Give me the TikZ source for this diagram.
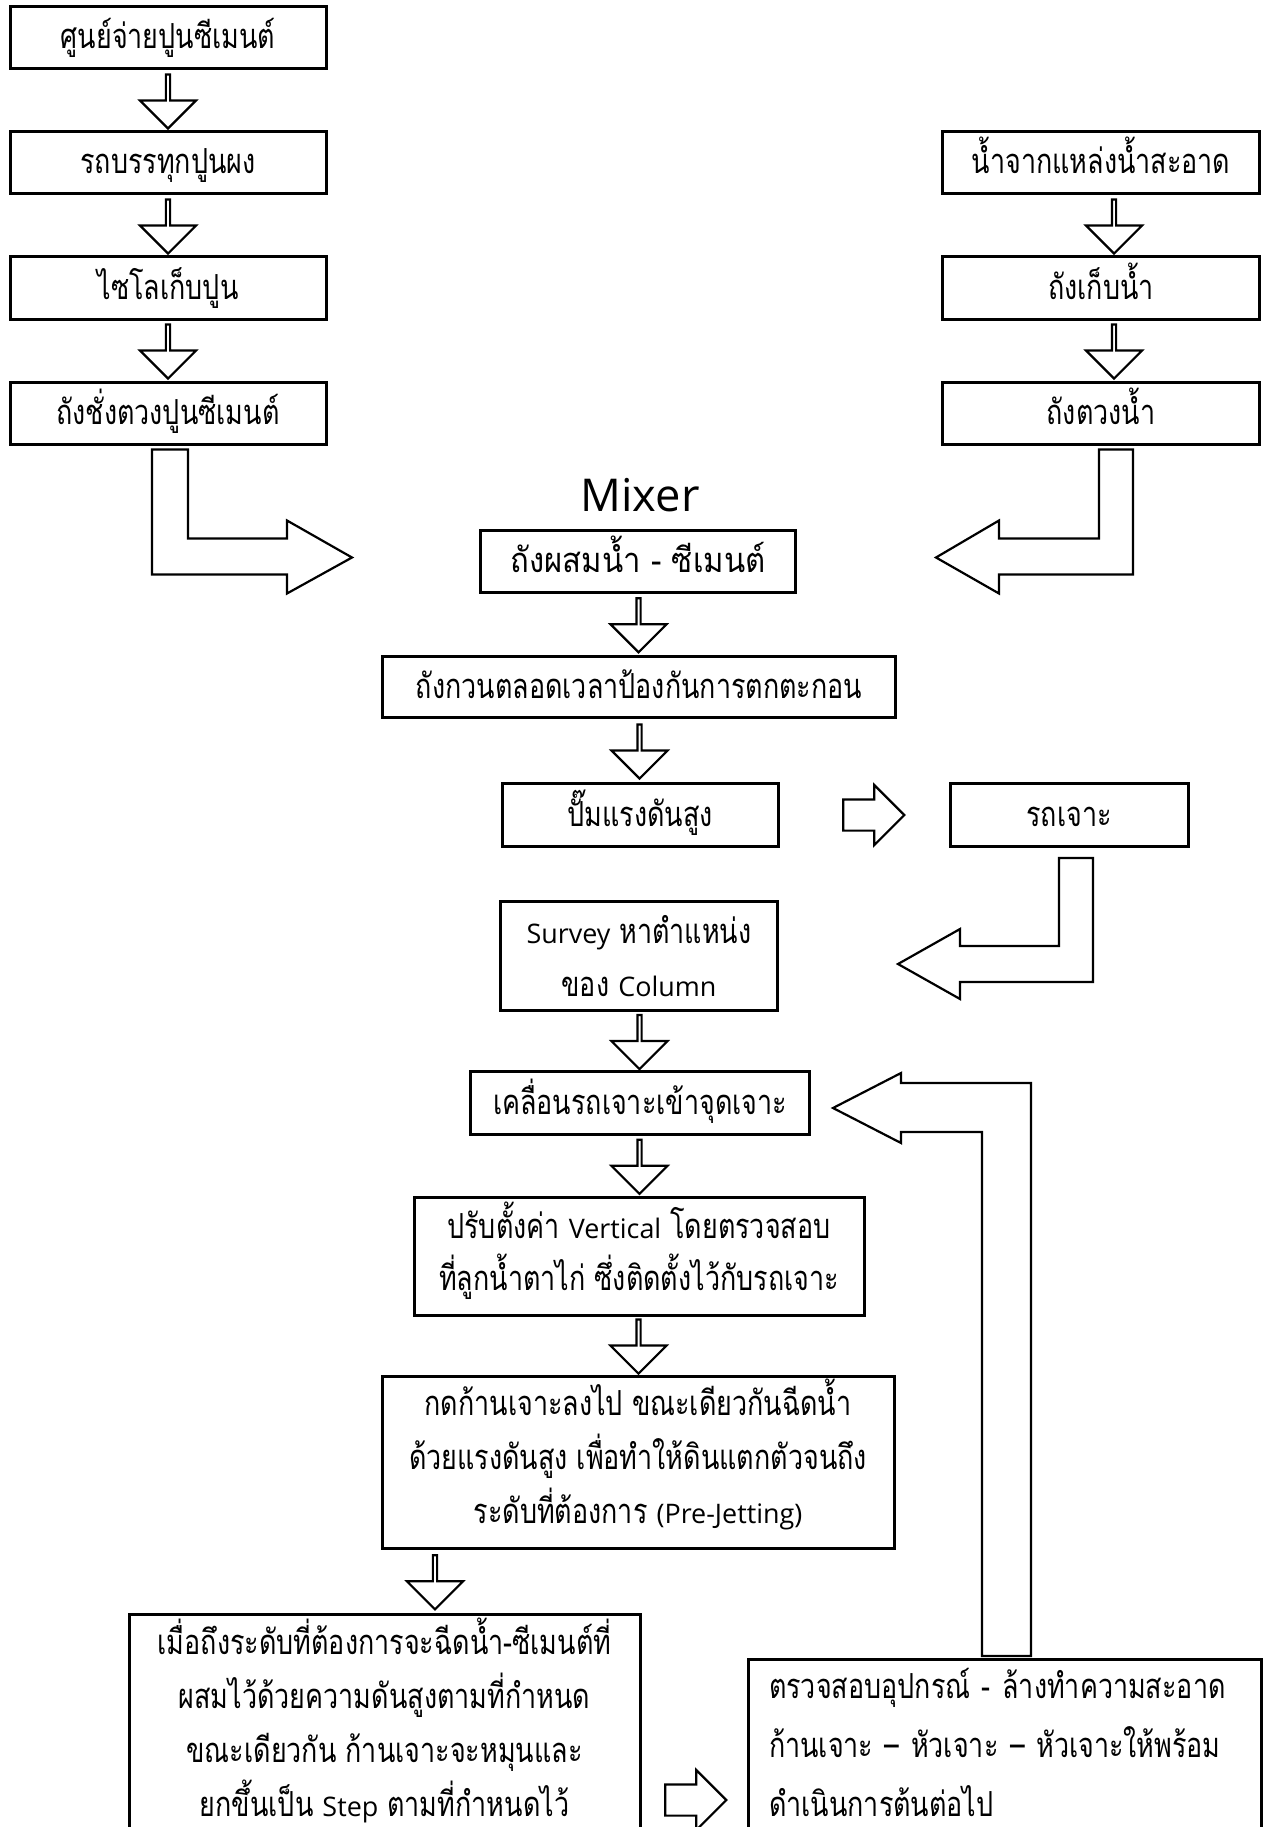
\documentclass[tikz,border=0pt]{standalone}
\usepackage{fontspec}
\newfontfamily\thaifont[Script=Thai,FakeStretch=0.78]{Loma}
\newfontfamily\thaiwide[Script=Thai,FakeStretch=0.9]{Loma}
\newfontfamily\latfont[Scale=0.78]{Open Sans}
\newcommand{\lat}[1]{{\latfont #1}}
\newcommand{\lowpad}[1]{\rule[-#1pt]{0pt}{#1pt}}
\usetikzlibrary{shapes.arrows,calc}

\tikzset{
  box/.style={draw, line width=3pt, inner sep=0pt, align=center,
    font=\thaifont\fontsize{34.5}{54}\selectfont},
  oneline/.style={text height=31pt, text depth=9pt},
  dnarrow/.style={single arrow, draw, fill=white, line width=2.2pt, inner xsep=0pt,
    inner ysep=14.5pt, minimum width=56pt, minimum height=54pt,
    single arrow head extend=13.5pt, shape border rotate=270},
  rtarrow/.style={single arrow, draw, fill=white, line width=2.2pt, inner xsep=0pt,
    inner ysep=14.5pt, minimum width=58pt, minimum height=61pt,
    single arrow head extend=14.5pt},
  bentarrow/.style={draw, fill=white, line width=2.2pt, line join=miter},
}

\begin{document}
\begin{tikzpicture}[x=1pt,y=-1pt]
\useasboundingbox (0,0) rectangle (1268,1827);
\fill[white] (0,0) rectangle (1268,1827);

% cement supply
\node[box, oneline, minimum width=316pt, minimum height=62pt] (cdepot) at (168,38) {ศูนย์จ่ายปูนซีเมนต์};
\node[box, oneline, minimum width=316pt, minimum height=62pt] (ctruck) at (168,163) {รถบรรทุกปูนผง};
\node[box, oneline, minimum width=316pt, minimum height=62pt] (csilo) at (168,288) {ไซโลเก็บปูน};
\node[box, oneline, minimum width=316pt, minimum height=62pt] (cweigh) at (168,413) {ถังชั่งตวงปูนซีเมนต์};

% water supply
\node[box, oneline, minimum width=317pt, minimum height=62pt] (wsource) at (1101,163) {น้ำจากแหล่งน้ำสะอาด};
\node[box, oneline, minimum width=317pt, minimum height=62pt] (wtank) at (1101,288) {ถังเก็บน้ำ};
\node[box, oneline, minimum width=317pt, minimum height=62pt] (wmeas) at (1101,413) {ถังตวงน้ำ};

% mixer
\node[font=\latfont\fontsize{58}{58}\selectfont, inner sep=0pt] (mixlabel) at (640,495) {Mixer};
\node[box, oneline, minimum width=315pt, minimum height=62pt, font=\thaiwide\fontsize{34.5}{50}\selectfont] (mix) at (638,561) {ถังผสมน้ำ - ซีเมนต์};
\node[box, oneline, minimum width=513pt, minimum height=61pt] (stir) at (639,687) {ถังกวนตลอดเวลาป้องกันการตกตะกอน};
\node[box, oneline, minimum width=276pt, minimum height=63pt] (pump) at (640,815) {ปั๊มแรงดันสูง};
\node[box, oneline, minimum width=238pt, minimum height=63pt] (rig) at (1069,815) {รถเจาะ};

% drilling steps
\node[box, minimum width=277pt, minimum height=109pt, font=\thaifont\fontsize{34.5}{53}\selectfont] (survey) at (639,956) {\lat{Survey} หาตำแหน่ง\\ของ \lat{Column}};
\node[box, oneline, minimum width=339pt, minimum height=63pt] (move) at (640,1103) {เคลื่อนรถเจาะเข้าจุดเจาะ};
\node[box, minimum width=450pt, minimum height=118pt, font=\thaifont\fontsize{34.5}{52}\selectfont] (vert) at (639,1256) {ปรับตั้งค่า \lat{Vertical} โดยตรวจสอบ\\ที่ลูกน้ำตาไก่ ซึ่งติดตั้งไว้กับรถเจาะ\lowpad{20}};
\node[box, minimum width=512pt, minimum height=172pt] (jet) at (638,1462) {กดก้านเจาะลงไป ขณะเดียวกันฉีดน้ำ\\ด้วยแรงดันสูง เพื่อทำให้ดินแตกตัวจนถึง\\ระดับที่ต้องการ \lat{(Pre-Jetting)}\lowpad{21}};
\node[box, anchor=north, minimum width=511pt, minimum height=224pt] (grout) at (384.5,1613) {เมื่อถึงระดับที่ต้องการจะฉีดน้ำ-ซีเมนต์ที่\\ผสมไว้ด้วยความดันสูงตามที่กำหนด\\ขณะเดียวกัน ก้านเจาะจะหมุนและ\\ยกขึ้นเป็น \lat{Step} ตามที่กำหนดไว้\lowpad{19}};
\node[box, anchor=north, align=left, text width=471pt, minimum width=513pt, minimum height=176pt, font=\thaifont\fontsize{34.5}{59}\selectfont] (clean) at (1004.5,1658) {ตรวจสอบอุปกรณ์ - ล้างทำความสะอาด\\ก้านเจาะ – หัวเจาะ – หัวเจาะให้พร้อม\\ดำเนินการต้นต่อไป\lowpad{11}};

% straight arrows
\node[dnarrow] at ($(cdepot.south)!0.5!(ctruck.north)$) {};
\node[dnarrow] at ($(ctruck.south)!0.5!(csilo.north)$) {};
\node[dnarrow] at ($(csilo.south)!0.5!(cweigh.north)$) {};
\node[dnarrow] at ($(wsource.south)!0.5!(wtank.north)+(13,0)$) {};
\node[dnarrow] at ($(wtank.south)!0.5!(wmeas.north)+(13,0)$) {};
\node[dnarrow] at ($(mix.south)!0.5!(stir.north)$) {};
\node[dnarrow] at ($(stir.south)!0.5!(pump.north)$) {};
\node[dnarrow] at ($(survey.south)!0.5!(move.north)$) {};
\node[dnarrow] at ($(move.south)!0.5!(vert.north)$) {};
\node[dnarrow] at ($(vert.south)!0.5!(jet.north)$) {};
\coordinate (gx) at (435,0);
\node[dnarrow] at ($(jet.south -| gx)!0.5!(grout.north -| gx)$) {};
\node[rtarrow] at ($(pump.east)!0.5!(rig.west)+(2,0)$) {};
\coordinate (cy) at (0,1800);
\node[rtarrow] at ($(grout.east |- cy)!0.5!(clean.west |- cy)+(-6,0)$) {};

% bent arrows
\draw[bentarrow] ($(cweigh.south)+(-16,4)$) -- ++(36,0) -- ++(0,89) -- ++(99,0) -- ++(0,-18)
  -- ++(65,37) -- ++(-65,36) -- ++(0,-19) -- ++(-135,0) -- cycle;
\draw[bentarrow] ($(wmeas.south)+(32,4)$) -- ++(-34,0) -- ++(0,89) -- ++(-100,0) -- ++(0,-18)
  -- ++(-63,37) -- ++(63,36) -- ++(0,-19) -- ++(134,0) -- cycle;
\draw[bentarrow] ($(rig.south)+(24,10)$) -- ++(-34,0) -- ++(0,88) -- ++(-99,0) -- ++(0,-17)
  -- ++(-62,35) -- ++(62,35) -- ++(0,-17) -- ++(133,0) -- cycle;
\draw[bentarrow] ($(clean.north)+(-22.5,-2)$) -- ++(0,-524) -- ++(-81,0) -- ++(0,11)
  -- ++(-68,-35) -- ++(68,-35) -- ++(0,10) -- ++(130,0) -- ++(0,573) -- cycle;

\end{tikzpicture}
\end{document}
